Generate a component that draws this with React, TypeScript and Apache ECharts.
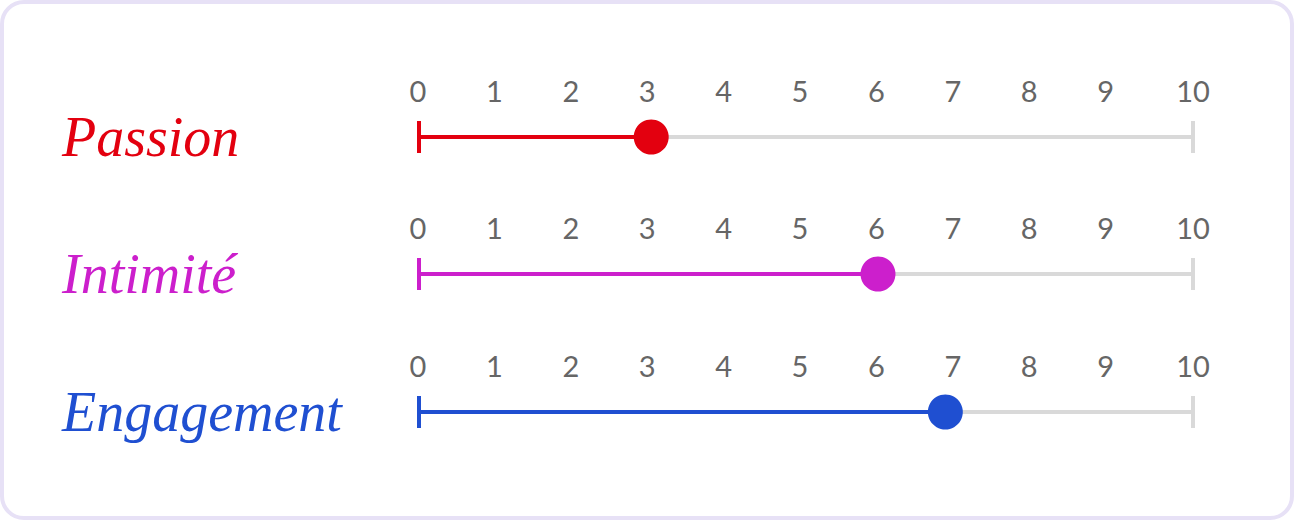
import React, { useEffect, useRef } from "react";
import * as echarts from "echarts";

const categories = ["Passion", "Intimité", "Engagement"];
const values = [3, 5.93, 6.8];
const colors = ["#e3000f", "#cc1fcc", "#1f4fd1"];
const scaleMin = 0;
const scaleMax = 10;
const scaleStep = 1;

const rowY = [137, 274, 412];
const TRACK = "#d9d9d9";
const W = 1294;
const H = 520;

export default function App() {
  const ref = useRef<HTMLDivElement>(null);
  useEffect(() => {
    if (!ref.current) return;
    const chart = echarts.init(ref.current, undefined, { renderer: "svg", width: W, height: H });
    const grid: any[] = [];
    const xAxis: any[] = [];
    const yAxis: any[] = [];
    const series: any[] = [];
    categories.forEach((name, i) => {
      const y = rowY[i];
      const g = 2 * i;
      const gl = 2 * i + 1;
      grid.push({ left: 419, right: 101, top: y - 20, height: 40 });
      grid.push({ left: 418, right: 112, top: y - 30, height: 10 });
      xAxis.push({
        gridIndex: g, type: "value", min: scaleMin, max: scaleMax, interval: scaleStep,
        axisLine: { show: false }, axisTick: { show: false }, splitLine: { show: false },
        axisLabel: { show: false },
      });
      xAxis.push({
        gridIndex: gl, type: "value", min: scaleMin, max: scaleMax, interval: scaleStep,
        position: "top",
        axisLine: { show: false }, axisTick: { show: false }, splitLine: { show: false },
        axisLabel: {
          margin: 2,
          fontSize: 29,
          color: "#666666",
          fontFamily: "Lato",
          fontWeight: 400,
          formatter: (v: number) => (v === scaleMax ? "{t|" + v + "}" : String(v)),
          rich: { t: { padding: [0, 0, 0, 22], fontSize: 29, color: "#666666", fontFamily: "Lato", fontWeight: 400 } },
        },
      });
      yAxis.push({
        gridIndex: g, type: "category", data: [name],
        axisLine: { show: false }, axisTick: { show: false }, splitLine: { show: false },
        axisLabel: {
          align: "left",
          margin: 357,
          fontSize: 56,
          fontStyle: "italic",
          fontFamily: "Liberation Serif",
          color: colors[i],
        },
      });
      yAxis.push({ gridIndex: gl, type: "category", data: [name], show: false });

      series.push({
        type: "line", xAxisIndex: g, yAxisIndex: g, symbol: "none", silent: true, z: 2,
        data: [[scaleMin, name], [scaleMax, name]],
        lineStyle: { color: TRACK, width: 4 },
      });
      series.push({
        type: "line", xAxisIndex: g, yAxisIndex: g, symbol: "none", silent: true, z: 3,
        data: [[scaleMin, name], [values[i], name]],
        lineStyle: { color: colors[i], width: 4 },
      });
      series.push({
        type: "scatter", xAxisIndex: g, yAxisIndex: g, symbol: "rect", symbolSize: [4, 32], z: 3,
        data: [[scaleMin, name]],
        itemStyle: { color: colors[i], opacity: 1 },
      });
      series.push({
        type: "scatter", xAxisIndex: g, yAxisIndex: g, symbol: "rect", symbolSize: [4, 32], z: 3,
        data: [[scaleMax, name]],
        itemStyle: { color: TRACK, opacity: 1 },
      });
      series.push({
        type: "scatter", xAxisIndex: g, yAxisIndex: g, symbol: "circle", symbolSize: 35, z: 5,
        data: [[values[i], name]],
        itemStyle: { color: colors[i], opacity: 1 },
      });
    });

    chart.setOption({
      animation: false,
      backgroundColor: "transparent",
      graphic: [
        {
          type: "rect", z: -10, silent: true,
          shape: { x: 2, y: 2, width: W - 4, height: H - 4, r: 22 },
          style: { fill: "#ffffff", stroke: "#e7e1f6", lineWidth: 4 },
        },
      ],
      grid, xAxis, yAxis, series,
    });
    return () => chart.dispose();
  }, []);
  return (
    <div
      ref={ref}
      style={{ position: "fixed", left: 0, top: 0, width: W, height: H, background: "#ffffff" }}
    />
  );
}
